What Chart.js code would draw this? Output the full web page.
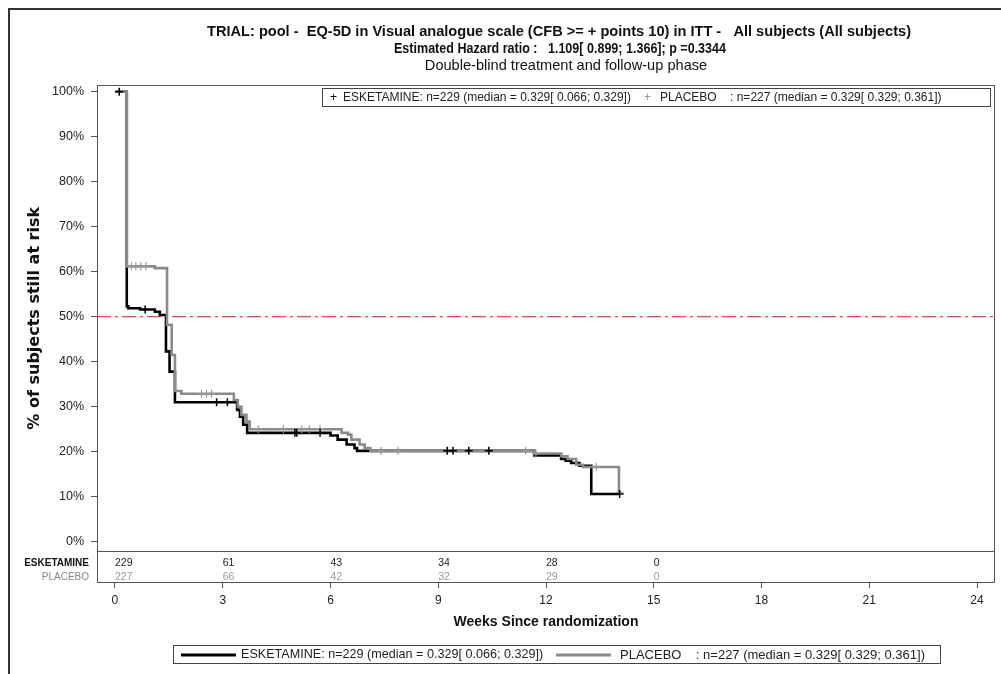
<!DOCTYPE html>
<html>
<head>
<meta charset="utf-8">
<title>EQ-5D VAS - Kaplan-Meier</title>
<script src="https://cdn.jsdelivr.net/npm/chart.js@4.4.1/dist/chart.umd.min.js"></script>
<style>
  html, body { margin: 0; padding: 0; background: #fff; }
  #wrap { width: 1001px; height: 674px; }
</style>
</head>
<body>
<div id="wrap"><canvas id="kmChart" width="1001" height="674"></canvas></div>
<script>
// Textes
const titleLines = [
    'TRIAL: pool -  EQ-5D in Visual analogue scale (CFB >= + points 10) in ITT -   All subjects (All subjects)',
    'Estimated Hazard ratio :   1.109[ 0.899; 1.366]; p =0.3344',
    'Double-blind treatment and follow-up phase'
];
const yAxisTitle = '% of subjects still at risk';
const xAxisTitle = 'Weeks Since randomization';
const groupNames = ['ESKETAMINE', 'PLACEBO'];
const legendTexts = [
    'ESKETAMINE: n=229 (median = 0.329[ 0.066; 0.329])',
    'PLACEBO    : n=227 (median = 0.329[ 0.329; 0.361])'
];

// Courbes de Kaplan-Meier (temps en semaines, % encore à risque)
const esketTime = [0, 0.329, 0.37, 0.70, 1.11, 1.25, 1.42, 1.52, 1.67, 3.40, 3.48, 3.57, 3.68, 6.00, 6.20, 6.45, 6.67, 6.74, 11.68, 12.42, 12.55, 12.70, 12.93, 13.26, 14.03];
const esketSurv = [100, 52.3, 51.9, 51.6, 51.1, 50.4, 42.3, 37.8, 31.0, 29.3, 27.8, 26.0, 24.2, 23.6, 22.7, 21.6, 20.8, 20.2, 19.2, 18.4, 18.0, 17.5, 16.9, 10.6, 10.6];

const placeboTime = [0, 0.329, 1.11, 1.45, 1.58, 1.67, 1.85, 3.31, 3.42, 3.52, 3.66, 3.75, 6.31, 6.49, 6.58, 6.81, 6.95, 7.11, 11.68, 12.42, 12.60, 12.84, 13.03, 14.03];
const placeboSurv = [100, 61.2, 60.8, 48.2, 41.5, 33.5, 32.9, 31.5, 30.0, 28.2, 26.7, 25.0, 24.2, 23.8, 22.7, 21.6, 20.8, 20.2, 19.6, 19.0, 18.4, 17.1, 16.6, 11.0];

// Données censurées
const esketCensorTime = [0.12, 0.84, 2.83, 3.13, 5.01, 5.06, 5.71, 9.25, 9.41, 9.85, 10.41, 14.05];
const esketCensorSurv = [100, 51.6, 31.0, 31.0, 24.2, 24.2, 24.2, 20.2, 20.2, 20.2, 20.2, 10.6];
const placeboCensorTime = [0.46, 0.58, 0.72, 0.86, 2.41, 2.55, 2.69, 3.99, 4.69, 5.20, 5.41, 5.71, 7.41, 7.88, 11.43, 11.72, 13.40, 14.05];
const placeboCensorSurv = [61.2, 61.2, 61.2, 61.2, 32.9, 32.9, 32.9, 25.0, 25.0, 25.0, 25.0, 25.0, 20.2, 20.2, 20.2, 19.6, 16.6, 11.0];

// Nombre de sujets à risque
const riskWeeks = [0, 3, 6, 9, 12, 15];
const esketRisk = [229, 61, 43, 34, 28, 0];
const placeboRisk = [227, 66, 42, 32, 29, 0];

// Axes
const xTicks = [0, 3, 6, 9, 12, 15, 18, 21, 24];
const yTicks = [0, 10, 20, 30, 40, 50, 60, 70, 80, 90, 100];
const medianLevel = 50;

const X_MIN = -0.5, X_MAX = 24.5;
const Y_MIN = -9.17, Y_MAX = 101.5;
const TABLE_TOP = -2;

const BLACK = '#000000';
const GREY = '#8a8a8a';
const SANS = '"Liberation Sans", Arial, sans-serif';

function toPoints(xs, ys) {
    return xs.map((v, i) => ({ x: v, y: ys[i] }));
}

const decorPlugin = {
    id: 'decor',
    beforeDraw(chart) {
        const ctx = chart.ctx;
        ctx.save();
        ctx.fillStyle = '#fff';
        ctx.fillRect(0, 0, chart.width, chart.height);
        ctx.restore();
    },
    afterDraw(chart) {
        const ctx = chart.ctx;
        const a = chart.chartArea;
        const x = chart.scales.x;
        const y = chart.scales.y;
        ctx.save();

        // cadre extérieur
        ctx.strokeStyle = '#333';
        ctx.lineWidth = 2;
        ctx.beginPath();
        ctx.moveTo(9, 674);
        ctx.lineTo(9, 9);
        ctx.lineTo(1001, 9);
        ctx.stroke();

        // cadre du graphique + séparation du tableau
        ctx.lineWidth = 1;
        ctx.strokeStyle = '#555';
        ctx.strokeRect(a.left + 0.5, a.top + 0.5, a.right - a.left - 1, a.bottom - a.top - 1);
        const tY = Math.round(y.getPixelForValue(TABLE_TOP)) + 0.5;
        ctx.beginPath();
        ctx.moveTo(a.left, tY);
        ctx.lineTo(a.right, tY);
        ctx.stroke();

        // titre
        ctx.fillStyle = '#111';
        ctx.textAlign = 'center';
        ctx.textBaseline = 'middle';
        ctx.font = 'bold 14.6px ' + SANS;
        ctx.fillText(titleLines[0], 559, 32);
        ctx.fillText(titleLines[1], 560, 49, 332);
        ctx.font = '14.6px ' + SANS;
        ctx.fillText(titleLines[2], 566, 66);

        // titre de l'axe Y (centré sur la zone des courbes)
        ctx.save();
        ctx.translate(35, (a.top + tY) / 2);
        ctx.rotate(-Math.PI / 2);
        ctx.font = 'bold 16px "DejaVu Sans", Verdana, sans-serif';
        ctx.fillStyle = '#111';
        ctx.fillText(yAxisTitle, 0, 0);
        ctx.restore();

        // légende du haut (symboles de censure)
        ctx.strokeStyle = '#444';
        ctx.strokeRect(322.5, 88.5, 668, 18);
        ctx.textAlign = 'left';
        ctx.font = '12px ' + SANS;
        ctx.fillStyle = BLACK;
        ctx.fillText('+', 330, 98);
        ctx.fillStyle = '#222';
        ctx.fillText(legendTexts[0], 343, 98);
        ctx.fillStyle = '#999';
        ctx.fillText('+', 644, 98);
        ctx.fillStyle = '#222';
        ctx.fillText(legendTexts[1], 660, 98, 325);

        // tableau des sujets à risque
        const row1 = tY + 12, row2 = tY + 26;
        ctx.textAlign = 'right';
        ctx.font = 'bold 10px ' + SANS;
        ctx.fillStyle = '#111';
        ctx.fillText(groupNames[0], 89, row1, 66);
        ctx.font = '10px ' + SANS;
        ctx.fillStyle = '#888';
        ctx.fillText(groupNames[1], 89, row2, 52);
        ctx.textAlign = 'left';
        ctx.font = '10.5px ' + SANS;
        riskWeeks.forEach((w, i) => {
            const px = x.getPixelForValue(w);
            ctx.fillStyle = '#222';
            ctx.fillText(String(esketRisk[i]), px, row1);
            ctx.fillStyle = '#999';
            ctx.fillText(String(placeboRisk[i]), px, row2);
        });

        // légende du bas (traits)
        ctx.strokeStyle = '#444';
        ctx.lineWidth = 1;
        ctx.strokeRect(173.5, 645.5, 767, 18);
        ctx.lineWidth = 3;
        ctx.strokeStyle = BLACK;
        ctx.beginPath(); ctx.moveTo(181, 655); ctx.lineTo(236, 655); ctx.stroke();
        ctx.strokeStyle = GREY;
        ctx.beginPath(); ctx.moveTo(556, 655); ctx.lineTo(611, 655); ctx.stroke();
        ctx.font = '12.6px ' + SANS;
        ctx.fillStyle = '#222';
        ctx.fillText(legendTexts[0], 241, 655);
        ctx.font = '13px ' + SANS;
        ctx.fillText(legendTexts[1], 620, 655, 315);

        ctx.restore();
    }
};

const ctx = document.getElementById('kmChart').getContext('2d');
new Chart(ctx, {
    type: 'line',
    data: {
        datasets: [
            {
                label: 'ESKETAMINE (censored)',
                type: 'scatter',
                data: toPoints(esketCensorTime, esketCensorSurv),
                pointStyle: 'cross',
                pointRadius: 4,
                pointBorderWidth: 1.5,
                borderColor: BLACK,
                backgroundColor: BLACK,
                order: 0
            },
            {
                label: 'PLACEBO (censored)',
                type: 'scatter',
                data: toPoints(placeboCensorTime, placeboCensorSurv),
                pointStyle: 'cross',
                pointRadius: 4,
                pointBorderWidth: 1.2,
                borderColor: '#9a9a9a',
                backgroundColor: '#9a9a9a',
                order: 0
            },
            {
                label: 'PLACEBO',
                data: toPoints(placeboTime, placeboSurv),
                stepped: 'before',
                borderColor: GREY,
                borderWidth: 2.6,
                pointRadius: 0,
                fill: false,
                order: 1
            },
            {
                label: 'ESKETAMINE',
                data: toPoints(esketTime, esketSurv),
                stepped: 'before',
                borderColor: BLACK,
                borderWidth: 2.6,
                pointRadius: 0,
                fill: false,
                order: 2
            },
            {
                label: 'Median',
                data: [{ x: X_MIN, y: medianLevel }, { x: X_MAX, y: medianLevel }],
                borderColor: '#cc1a1a',
                borderWidth: 1,
                borderDash: [14, 4, 3, 4],
                pointRadius: 0,
                fill: false,
                order: 3
            }
        ]
    },
    options: {
        responsive: false,
        animation: false,
        events: [],
        layout: { padding: { left: 8, right: 6, top: 85, bottom: 34 } },
        plugins: {
            legend: { display: false },
            title: { display: false },
            tooltip: { enabled: false }
        },
        scales: {
            x: {
                type: 'linear',
                min: X_MIN,
                max: X_MAX,
                afterBuildTicks: (scale) => { scale.ticks = xTicks.map(v => ({ value: v })); },
                afterFit: (scale) => { scale.height = 57; },
                grid: { display: true, drawOnChartArea: false, drawTicks: true, tickLength: 5, color: '#555' },
                border: { display: false },
                ticks: {
                    autoSkip: false,
                    maxRotation: 0,
                    padding: 5,
                    color: '#222',
                    font: { family: SANS, size: 12 }
                },
                title: {
                    display: true,
                    text: xAxisTitle,
                    color: '#111',
                    padding: { top: 0, bottom: 9 },
                    font: { family: SANS, size: 14, weight: 'bold' }
                }
            },
            y: {
                type: 'linear',
                min: Y_MIN,
                max: Y_MAX,
                afterBuildTicks: (scale) => { scale.ticks = yTicks.map(v => ({ value: v })); },
                afterFit: (scale) => { scale.width = 89; },
                grid: { display: true, drawOnChartArea: false, drawTicks: true, tickLength: 6, color: '#555' },
                border: { display: false },
                ticks: {
                    padding: 7,
                    color: '#222',
                    callback: (v) => v + '%',
                    font: { family: SANS, size: 12.5 }
                },
                title: { display: false, text: yAxisTitle }
            }
        }
    },
    plugins: [decorPlugin]
});
</script>
</body>
</html>
